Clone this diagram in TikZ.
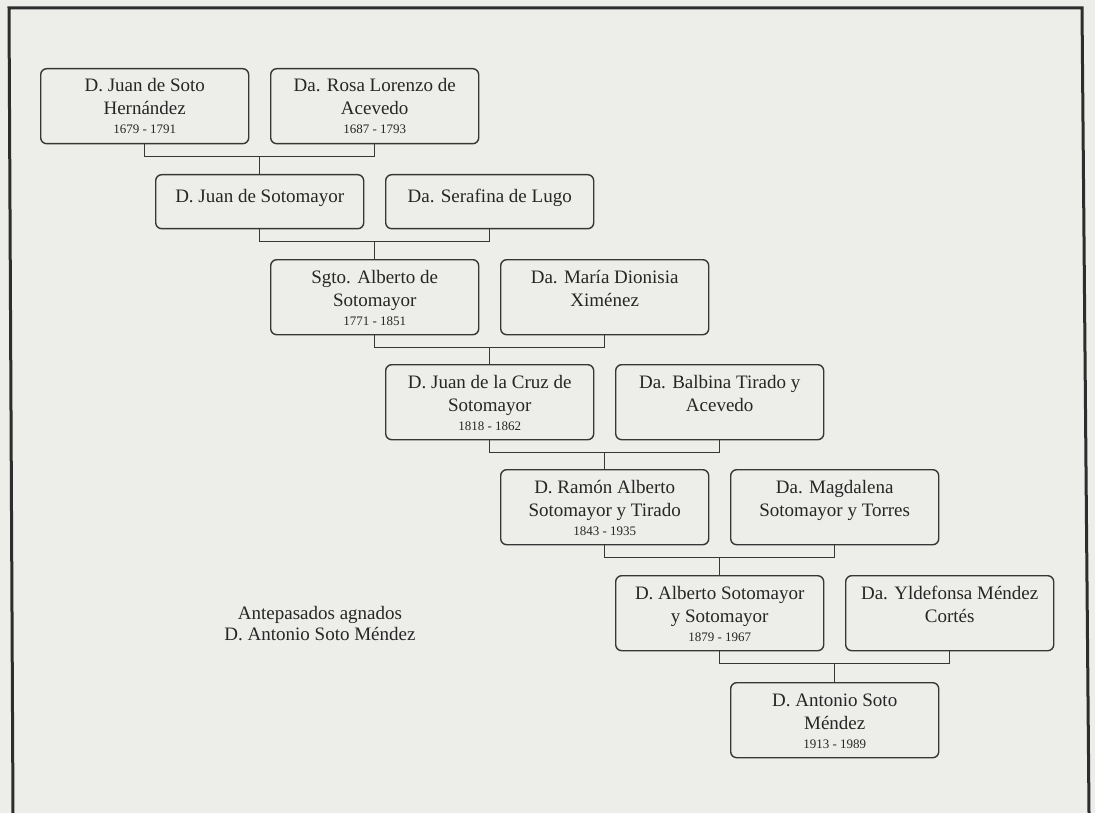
\documentclass[tikz,border=0pt]{standalone}
\usepackage{fontspec}
\setmainfont{Liberation Serif}
\usetikzlibrary{calc}
\definecolor{paper}{RGB}{237,237,234}
\definecolor{ink}{RGB}{38,38,38}
\definecolor{boxline}{RGB}{55,55,55}
\definecolor{framec}{RGB}{45,45,45}
\begin{document}
\begin{tikzpicture}[x=1pt,y=-1pt,
  person/.style={draw=boxline, line width=1.4pt, rounded corners=6pt,
    minimum width=208pt, minimum height=75pt, inner sep=0pt, anchor=north west},
  shortperson/.style={person, minimum height=54pt},
  nm/.style={anchor=base, font=\fontsize{19}{22}\selectfont, text=ink, inner sep=0pt},
  dt/.style={anchor=base, font=\fontsize{13}{15}\selectfont, text=ink, inner sep=0pt},
  conn/.style={draw=boxline, line width=1.3pt}]
\fill[paper] (0,0) rectangle (1095,813);
\useasboundingbox (0,0) rectangle (1095,813);
% frame (open at the bottom)
\draw[framec, line width=3pt, line join=miter] (13,813) -- (9,8) -- (1082,8) -- (1089,813);

% generation 1
\node[person] (b1) at (40,68) {};
\node[nm] (b1a) at ($(b1.north)+(0,24)$) {D. Juan de Soto};
\node[nm] (b1b) at ($(b1.north)+(0,47)$) {Hernández};
\node[dt] (b1c) at ($(b1.north)+(0,66)$) {1679 - 1791};
\node[person] (b2) at (270,68) {};
\node[nm] (b2a) at ($(b2.north)+(0,24)$) {Da. Rosa Lorenzo de};
\node[nm] (b2b) at ($(b2.north)+(0,47)$) {Acevedo};
\node[dt] (b2c) at ($(b2.north)+(0,66)$) {1687 - 1793};

% generation 2
\node[shortperson] (b3) at (155,174) {};
\node[nm] (b3a) at ($(b3.north)+(0,29)$) {D. Juan de Sotomayor};
\node[shortperson] (b4) at (385,174) {};
\node[nm] (b4a) at ($(b4.north)+(0,29)$) {Da. Serafina de Lugo};

% generation 3
\node[person] (b5) at (270,259) {};
\node[nm] (b5a) at ($(b5.north)+(0,24)$) {Sgto. Alberto de};
\node[nm] (b5b) at ($(b5.north)+(0,47)$) {Sotomayor};
\node[dt] (b5c) at ($(b5.north)+(0,66)$) {1771 - 1851};
\node[person] (b6) at (500,259) {};
\node[nm] (b6a) at ($(b6.north)+(0,24)$) {Da. María Dionisia};
\node[nm] (b6b) at ($(b6.north)+(0,47)$) {Ximénez};

% generation 4
\node[person] (b7) at (385,364) {};
\node[nm] (b7a) at ($(b7.north)+(0,24)$) {D. Juan de la Cruz de};
\node[nm] (b7b) at ($(b7.north)+(0,47)$) {Sotomayor};
\node[dt] (b7c) at ($(b7.north)+(0,66)$) {1818 - 1862};
\node[person] (b8) at (615,364) {};
\node[nm] (b8a) at ($(b8.north)+(0,24)$) {Da. Balbina Tirado y};
\node[nm] (b8b) at ($(b8.north)+(0,47)$) {Acevedo};

% generation 5
\node[person] (b9) at (500,469) {};
\node[nm] (b9a) at ($(b9.north)+(0,24)$) {D. Ramón Alberto};
\node[nm] (b9b) at ($(b9.north)+(0,47)$) {Sotomayor y Tirado};
\node[dt] (b9c) at ($(b9.north)+(0,66)$) {1843 - 1935};
\node[person] (b10) at (730,469) {};
\node[nm] (b10a) at ($(b10.north)+(0,24)$) {Da. Magdalena};
\node[nm] (b10b) at ($(b10.north)+(0,47)$) {Sotomayor y Torres};

% generation 6
\node[person] (b11) at (615,575) {};
\node[nm] (b11a) at ($(b11.north)+(0,24)$) {D. Alberto Sotomayor};
\node[nm] (b11b) at ($(b11.north)+(0,47)$) {y Sotomayor};
\node[dt] (b11c) at ($(b11.north)+(0,66)$) {1879 - 1967};
\node[person] (b12) at (845,575) {};
\node[nm] (b12a) at ($(b12.north)+(0,24)$) {Da. Yldefonsa Méndez};
\node[nm] (b12b) at ($(b12.north)+(0,47)$) {Cortés};

% generation 7
\node[person] (b13) at (730,682) {};
\node[nm] (b13a) at ($(b13.north)+(0,24)$) {D. Antonio Soto};
\node[nm] (b13b) at ($(b13.north)+(0,47)$) {Méndez};
\node[dt] (b13c) at ($(b13.north)+(0,66)$) {1913 - 1989};

% caption
\node[nm] (cap1) at (320,619) {Antepasados agnados};
\node[nm] (cap2) at (320,640) {D. Antonio Soto Méndez};

% connectors
\coordinate (j1) at ($(b1.south)!0.5!(b2.south)+(0,12)$);
\draw[conn] (b1.south) |- (j1) -| (b2.south);
\draw[conn] (j1) -- (j1 |- b3.north);
\coordinate (j2) at ($(b3.south)!0.5!(b4.south)+(0,12)$);
\draw[conn] (b3.south) |- (j2) -| (b4.south);
\draw[conn] (j2) -- (j2 |- b5.north);
\coordinate (j3) at ($(b5.south)!0.5!(b6.south)+(0,12)$);
\draw[conn] (b5.south) |- (j3) -| (b6.south);
\draw[conn] (j3) -- (j3 |- b7.north);
\coordinate (j4) at ($(b7.south)!0.5!(b8.south)+(0,12)$);
\draw[conn] (b7.south) |- (j4) -| (b8.south);
\draw[conn] (j4) -- (j4 |- b9.north);
\coordinate (j5) at ($(b9.south)!0.5!(b10.south)+(0,12)$);
\draw[conn] (b9.south) |- (j5) -| (b10.south);
\draw[conn] (j5) -- (j5 |- b11.north);
\coordinate (j6) at ($(b11.south)!0.5!(b12.south)+(0,12)$);
\draw[conn] (b11.south) |- (j6) -| (b12.south);
\draw[conn] (j6) -- (j6 |- b13.north);
\end{tikzpicture}
\end{document}
